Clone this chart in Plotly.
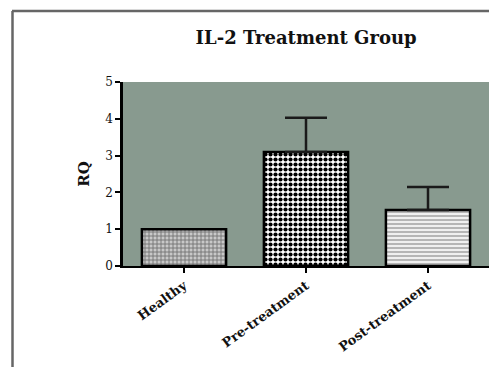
import plotly.graph_objects as go

categories = ["Healthy", "Pre-treatment", "Post-treatment"]
rq_mean = [1.0, 3.1, 1.52]
rq_err_plus = [0.0, 0.93, 0.63]
y_ticks = [0, 1, 2, 3, 4, 5]

font_family = "DejaVu Serif, Liberation Serif, serif"

fig = go.Figure()
pattern_shapes = ["+", ".", "-"]
pattern_fg = ["#707070", "#000000", "#a8a8a8"]
pattern_bg = ["#c8c8c8", "#ffffff", "#f0f0f0"]
pattern_size = [4, 5, 4]
pattern_sol = [0.4, 0.55, 0.4]

for i, cat in enumerate(categories):
    fig.add_trace(go.Bar(
        x=[cat], y=[rq_mean[i]],
        width=0.69,
        marker=dict(
            color=pattern_bg[i],
            line=dict(color="black", width=2.5),
            pattern=dict(shape=pattern_shapes[i], fgcolor=pattern_fg[i],
                         bgcolor=pattern_bg[i], size=pattern_size[i],
                         solidity=pattern_sol[i], fillmode="replace"),
        ),
        error_y=dict(type="data", symmetric=False, array=[rq_err_plus[i]],
                     arrayminus=[0], color="#1a1a1a", thickness=2.5,
                     width=21, visible=rq_err_plus[i] > 0),
        showlegend=False,
    ))

fig.update_layout(
    width=489, height=367,
    margin=dict(l=123, r=0, t=82, b=101),
    paper_bgcolor="white",
    plot_bgcolor="#889a8f",
    barmode="overlay",
    title=dict(text="<b>IL-2 Treatment Group</b>", x=0.626, xanchor="center",
               y=1 - 38 / 367, yanchor="middle",
               font=dict(family=font_family, size=18, color="#111")),
    font=dict(family=font_family, color="#111"),
)
fig.update_xaxes(
    categoryorder="array", categoryarray=categories,
    range=[-0.5, 2.5],
    showline=True, linecolor="black", linewidth=2,
    ticks="outside", ticklen=5, tickwidth=1.5, tickcolor="black",
    tickangle=-36,
    tickfont=dict(family=font_family, size=13, color="#111"),
    tickprefix="<b>", ticksuffix="</b>",
    showgrid=False, zeroline=False,
)
fig.update_yaxes(
    range=[0, 5], tickvals=y_ticks,
    showline=True, linecolor="black", linewidth=2.5,
    ticks="outside", ticklen=5, tickwidth=2, tickcolor="black",
    tickfont=dict(family=font_family, size=12, color="#111"),
    tickprefix="<b>", ticksuffix="</b>",
    title=dict(text="<b>RQ</b>", font=dict(family=font_family, size=15, color="#111"),
               standoff=12),
    showgrid=False, zeroline=False,
)

# decorative frame around the figure
fig.add_shape(type="line", xref="paper", yref="paper",
              x0=(12 - 123) / 366, x1=1.01, y0=1 + 71 / 184, y1=1 + 71 / 184,
              line=dict(color="#666", width=2.5))
fig.add_shape(type="line", xref="paper", yref="paper",
              x0=(12.5 - 123) / 366, x1=(12.5 - 123) / 366,
              y0=1 + 71 / 184, y1=-101 / 184 - 0.05,
              line=dict(color="#666", width=2.5))

fig.write_html(
    "out.html",
    config={"displayModeBar": False},
    post_script="document.body.style.margin='0';document.body.style.overflow='hidden';",
)
